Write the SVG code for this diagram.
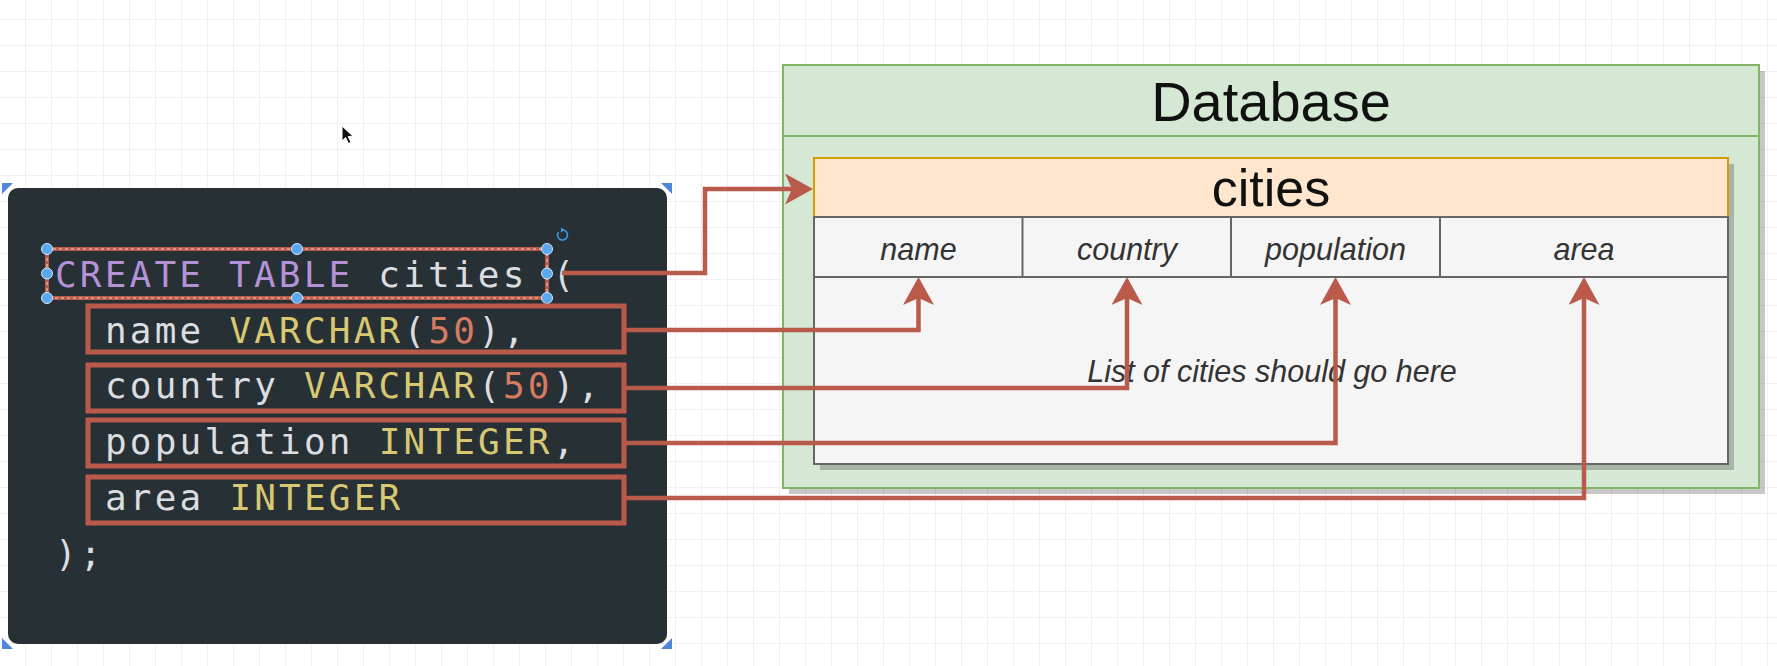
<svg xmlns="http://www.w3.org/2000/svg" width="1777" height="666" viewBox="0 0 1777 666">
  <defs>
    <pattern id="grid" x="0" y="0" width="26" height="26" patternUnits="userSpaceOnUse">
      <path d="M25.5,0 V26 M0,19.5 H26" fill="none" stroke="#f0f0f0" stroke-width="1"/>
    </pattern>
    <marker id="arrow" viewBox="0 0 28 31" refX="7" refY="15.5" markerWidth="28" markerHeight="31" markerUnits="userSpaceOnUse" orient="auto">
      <path d="M28,15.5 L0,0 L7,15.5 L0,31 Z" fill="#b95a4b"/>
    </marker>
    <style>
      .code { font-family: "DejaVu Sans Mono", "Liberation Mono", monospace; font-size: 36px; letter-spacing: 3.2px; fill: #dcdde0; }
      .kw { fill: #b592d6; }
      .ty { fill: #d9c872; }
      .num { fill: #d67a62; }
      .row { fill: none; stroke: #b95a4b; stroke-width: 5; }
      .conn { fill: none; stroke: #b95a4b; stroke-width: 4.5; }
      .handle { fill: #5aa9ee; stroke: #d4eafc; stroke-width: 1; }
      .corner { fill: #4f86dc; }
      .col { font-family: "Liberation Sans", Arial, sans-serif; font-size: 30.5px; font-style: italic; fill: #333333; text-anchor: middle; }
      .shadow { fill: #000000; opacity: 0.22; }
      .cell { fill: #f5f5f5; stroke: #666666; stroke-width: 2; }
    </style>
  </defs>

  <rect x="0" y="0" width="1777" height="666" fill="#ffffff"/>
  <rect x="0" y="0" width="1777" height="666" fill="url(#grid)"/>

  <!-- mouse cursor -->
  <path d="M342,126 V141 L345.5,137.5 L348.5,143.5 L351,142.3 L348.2,136.5 L353,136.2 Z" fill="#111111" stroke="#ffffff" stroke-width="1"/>

  <g id="code-panel">
    <rect x="8" y="188" width="659" height="456" rx="10" ry="10" fill="#263035"/>
    <polygon class="corner" points="2,183 13,183 2,194"/>
    <polygon class="corner" points="661,183 672,183 672,194"/>
    <polygon class="corner" points="2,638 2,649 13,649"/>
    <polygon class="corner" points="672,638 672,649 661,649"/>
    <text class="code" x="55" y="287"><tspan class="kw">CREATE TABLE</tspan> cities (</text>
    <text class="code" x="105" y="343">name <tspan class="ty">VARCHAR</tspan>(<tspan class="num">50</tspan>),</text>
    <text class="code" x="105" y="398">country <tspan class="ty">VARCHAR</tspan>(<tspan class="num">50</tspan>),</text>
    <text class="code" x="105" y="454">population <tspan class="ty">INTEGER</tspan>,</text>
    <text class="code" x="105" y="510">area <tspan class="ty">INTEGER</tspan></text>
    <text class="code" x="55" y="566">);</text>
  </g>

  <g id="create-table-line">
    <rect x="47" y="249" width="500" height="49" fill="none" stroke="#b95a4b" stroke-width="4"/>
    <rect x="47" y="249" width="500" height="49" fill="none" stroke="#f3d3c8" stroke-width="1" stroke-dasharray="3 3"/>
    <circle class="handle" cx="47" cy="249" r="5.5"/>
    <circle class="handle" cx="297" cy="249" r="5.5"/>
    <circle class="handle" cx="547" cy="249" r="5.5"/>
    <circle class="handle" cx="47" cy="273.5" r="5.5"/>
    <circle class="handle" cx="547" cy="273.5" r="5.5"/>
    <circle class="handle" cx="47" cy="298" r="5.5"/>
    <circle class="handle" cx="297" cy="298" r="5.5"/>
    <circle class="handle" cx="547" cy="298" r="5.5"/>
    <path d="M558.5,232 A5,5 0 1 0 563,230" fill="none" stroke="#3d9be6" stroke-width="1.6"/>
    <path d="M561,227.5 L564.5,230 L561,232.5 Z" fill="#3d9be6"/>
  </g>

  <g id="row-name"><rect class="row" x="88" y="306" width="536" height="46"/></g>
  <g id="row-country"><rect class="row" x="88" y="365" width="536" height="46"/></g>
  <g id="row-population"><rect class="row" x="88" y="420" width="536" height="46"/></g>
  <g id="row-area"><rect class="row" x="88" y="477" width="536" height="46"/></g>

  <g id="database">
    <rect class="shadow" x="789" y="71" width="976" height="423"/>
    <rect x="783" y="65" width="976" height="423" fill="#d5e8d4" stroke="#82b366" stroke-width="2"/>
    <line x1="783" y1="136" x2="1759" y2="136" stroke="#82b366" stroke-width="2"/>
    <text x="1271" y="121" font-family="Liberation Sans, Arial, sans-serif" font-size="56" fill="#111111" text-anchor="middle">Database</text>
  </g>

  <g id="table-cities">
    <rect class="shadow" x="820" y="164" width="914" height="306"/>
    <rect x="814" y="158" width="914" height="59" fill="#ffe6cc" stroke="#d79b00" stroke-width="2"/>
    <text x="1271" y="206" font-family="Liberation Sans, Arial, sans-serif" font-size="52" fill="#111111" text-anchor="middle">cities</text>
    <rect class="cell" x="814" y="217" width="914" height="60"/>
    <rect class="cell" x="814" y="277" width="914" height="187"/>
    <line x1="1022.5" y1="217" x2="1022.5" y2="277" stroke="#666666" stroke-width="2"/>
    <line x1="1231" y1="217" x2="1231" y2="277" stroke="#666666" stroke-width="2"/>
    <line x1="1440" y1="217" x2="1440" y2="277" stroke="#666666" stroke-width="2"/>
    <text class="col" x="918.5" y="260">name</text>
    <text class="col" x="1127" y="260">country</text>
    <text class="col" x="1335.5" y="260">population</text>
    <text class="col" x="1584" y="260">area</text>
    <text class="col" x="1272" y="382" font-size="31.5">List of cities should go here</text>
  </g>

  <g id="connectors">
    <path class="conn" d="M562,273 H705 V189 H792" marker-end="url(#arrow)"/>
    <path class="conn" d="M624,330 H918.5 V298" marker-end="url(#arrow)"/>
    <path class="conn" d="M624,388 H1127 V298" marker-end="url(#arrow)"/>
    <path class="conn" d="M624,443 H1335.5 V298" marker-end="url(#arrow)"/>
    <path class="conn" d="M624,498 H1584 V298" marker-end="url(#arrow)"/>
  </g>
</svg>
